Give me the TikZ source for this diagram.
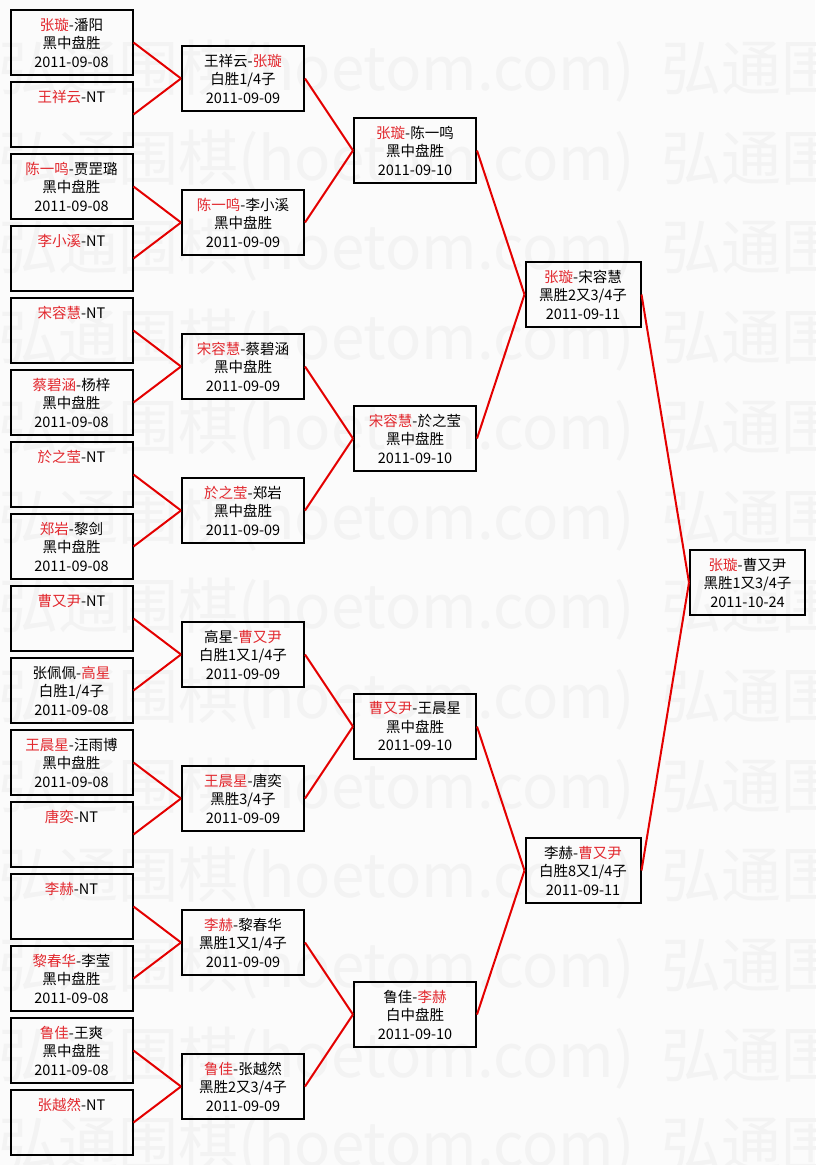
\documentclass[tikz,border=0pt]{standalone}
\usepackage{fontspec}
\setmainfont{Noto Sans CJK SC}

\definecolor{namered}{RGB}{226,40,46}
\definecolor{linkred}{RGB}{228,0,0}
\definecolor{paper}{RGB}{251,251,251}
\definecolor{wmgray}{RGB}{243,243,243}

\newcommand{\pname}[1]{\textcolor{namered}{#1}}

\begin{document}
\begin{tikzpicture}
  \tikzset{
    game/.style={
      rectangle,
      draw=black,
      line width=2pt,
      minimum width=122pt,
      minimum height=65pt,
      inner sep=0pt,
      align=center,
      font=\fontsize{14.5}{18.5}\selectfont
    },
    lategame/.style={game, minimum width=115pt},
    link/.style={draw=linkred, line width=2pt},
    wmtext/.style={anchor=base west, inner sep=0pt, text=wmgray, font=\fontsize{60}{60}\selectfont}
  }

  \fill[paper] (0pt, 0pt) rectangle (815pt, -1165pt);
  \useasboundingbox (0pt, 0pt) rectangle (815pt, -1165pt);

  % watermark rows
  \node[wmtext] (wm1) at (-2pt, -90pt) {弘通围棋(hoetom.com)\ \ 弘通围棋(hoetom.com)};
  \node[wmtext] (wm2) at (-2pt, -180pt) {弘通围棋(hoetom.com)\ \ 弘通围棋(hoetom.com)};
  \node[wmtext] (wm3) at (-2pt, -269pt) {弘通围棋(hoetom.com)\ \ 弘通围棋(hoetom.com)};
  \node[wmtext] (wm4) at (-2pt, -359pt) {弘通围棋(hoetom.com)\ \ 弘通围棋(hoetom.com)};
  \node[wmtext] (wm5) at (-2pt, -449pt) {弘通围棋(hoetom.com)\ \ 弘通围棋(hoetom.com)};
  \node[wmtext] (wm6) at (-2pt, -539pt) {弘通围棋(hoetom.com)\ \ 弘通围棋(hoetom.com)};
  \node[wmtext] (wm7) at (-2pt, -628pt) {弘通围棋(hoetom.com)\ \ 弘通围棋(hoetom.com)};
  \node[wmtext] (wm8) at (-2pt, -718pt) {弘通围棋(hoetom.com)\ \ 弘通围棋(hoetom.com)};
  \node[wmtext] (wm9) at (-2pt, -808pt) {弘通围棋(hoetom.com)\ \ 弘通围棋(hoetom.com)};
  \node[wmtext] (wm10) at (-2pt, -897pt) {弘通围棋(hoetom.com)\ \ 弘通围棋(hoetom.com)};
  \node[wmtext] (wm11) at (-2pt, -987pt) {弘通围棋(hoetom.com)\ \ 弘通围棋(hoetom.com)};
  \node[wmtext] (wm12) at (-2pt, -1077pt) {弘通围棋(hoetom.com)\ \ 弘通围棋(hoetom.com)};
  \node[wmtext] (wm13) at (-2pt, -1166pt) {弘通围棋(hoetom.com)\ \ 弘通围棋(hoetom.com)};

  % first round
  \node[game] (a1) at (71.5pt, -42.5pt) {\pname{张璇}-潘阳\\黑中盘胜\\2011-09-08};
  \node[game] (a2) at (71.5pt, -114.5pt) {\pname{王祥云}-NT\\~\\~};
  \node[game] (a3) at (71.5pt, -186.5pt) {\pname{陈一鸣}-贾罡璐\\黑中盘胜\\2011-09-08};
  \node[game] (a4) at (71.5pt, -258.5pt) {\pname{李小溪}-NT\\~\\~};
  \node[game] (a5) at (71.5pt, -330.5pt) {\pname{宋容慧}-NT\\~\\~};
  \node[game] (a6) at (71.5pt, -402.5pt) {\pname{蔡碧涵}-杨梓\\黑中盘胜\\2011-09-08};
  \node[game] (a7) at (71.5pt, -474.5pt) {\pname{於之莹}-NT\\~\\~};
  \node[game] (a8) at (71.5pt, -546.5pt) {\pname{郑岩}-黎剑\\黑中盘胜\\2011-09-08};
  \node[game] (a9) at (71.5pt, -618.5pt) {\pname{曹又尹}-NT\\~\\~};
  \node[game] (a10) at (71.5pt, -690.5pt) {张佩佩-\pname{高星}\\白胜1/4子\\2011-09-08};
  \node[game] (a11) at (71.5pt, -762.5pt) {\pname{王晨星}-汪雨博\\黑中盘胜\\2011-09-08};
  \node[game] (a12) at (71.5pt, -834.5pt) {\pname{唐奕}-NT\\~\\~};
  \node[game] (a13) at (71.5pt, -906.5pt) {\pname{李赫}-NT\\~\\~};
  \node[game] (a14) at (71.5pt, -978.5pt) {\pname{黎春华}-李莹\\黑中盘胜\\2011-09-08};
  \node[game] (a15) at (71.5pt, -1050.5pt) {\pname{鲁佳}-王爽\\黑中盘胜\\2011-09-08};
  \node[game] (a16) at (71.5pt, -1122.5pt) {\pname{张越然}-NT\\~\\~};

  % second round
  \node[game] (b1) at (243pt, -78.5pt) {王祥云-\pname{张璇}\\白胜1/4子\\2011-09-09};
  \node[game] (b2) at (243pt, -222.5pt) {\pname{陈一鸣}-李小溪\\黑中盘胜\\2011-09-09};
  \node[game] (b3) at (243pt, -366.5pt) {\pname{宋容慧}-蔡碧涵\\黑中盘胜\\2011-09-09};
  \node[game] (b4) at (243pt, -510.5pt) {\pname{於之莹}-郑岩\\黑中盘胜\\2011-09-09};
  \node[game] (b5) at (243pt, -654.5pt) {高星-\pname{曹又尹}\\白胜1又1/4子\\2011-09-09};
  \node[game] (b6) at (243pt, -798.5pt) {\pname{王晨星}-唐奕\\黑胜3/4子\\2011-09-09};
  \node[game] (b7) at (243pt, -942.5pt) {\pname{李赫}-黎春华\\黑胜1又1/4子\\2011-09-09};
  \node[game] (b8) at (243pt, -1086.5pt) {\pname{鲁佳}-张越然\\黑胜2又3/4子\\2011-09-09};

  % quarter finals
  \node[game] (c1) at (415pt, -150.5pt) {\pname{张璇}-陈一鸣\\黑中盘胜\\2011-09-10};
  \node[game] (c2) at (415pt, -438.5pt) {\pname{宋容慧}-於之莹\\黑中盘胜\\2011-09-10};
  \node[game] (c3) at (415pt, -726.5pt) {\pname{曹又尹}-王晨星\\黑中盘胜\\2011-09-10};
  \node[game] (c4) at (415pt, -1014.5pt) {鲁佳-\pname{李赫}\\白中盘胜\\2011-09-10};

  % semi finals
  \node[lategame] (d1) at (583pt, -294.5pt) {\pname{张璇}-宋容慧\\黑胜2又3/4子\\2011-09-11};
  \node[lategame] (d2) at (583pt, -870.5pt) {李赫-\pname{曹又尹}\\白胜8又1/4子\\2011-09-11};

  % final
  \node[lategame] (e1) at (747.5pt, -582.5pt) {\pname{张璇}-曹又尹\\黑胜1又3/4子\\2011-10-24};

  \draw[link] (a1.east) -- (b1.west);
  \draw[link] (a2.east) -- (b1.west);
  \draw[link] (a3.east) -- (b2.west);
  \draw[link] (a4.east) -- (b2.west);
  \draw[link] (a5.east) -- (b3.west);
  \draw[link] (a6.east) -- (b3.west);
  \draw[link] (a7.east) -- (b4.west);
  \draw[link] (a8.east) -- (b4.west);
  \draw[link] (a9.east) -- (b5.west);
  \draw[link] (a10.east) -- (b5.west);
  \draw[link] (a11.east) -- (b6.west);
  \draw[link] (a12.east) -- (b6.west);
  \draw[link] (a13.east) -- (b7.west);
  \draw[link] (a14.east) -- (b7.west);
  \draw[link] (a15.east) -- (b8.west);
  \draw[link] (a16.east) -- (b8.west);

  \draw[link] (b1.east) -- (c1.west);
  \draw[link] (b2.east) -- (c1.west);
  \draw[link] (b3.east) -- (c2.west);
  \draw[link] (b4.east) -- (c2.west);
  \draw[link] (b5.east) -- (c3.west);
  \draw[link] (b6.east) -- (c3.west);
  \draw[link] (b7.east) -- (c4.west);
  \draw[link] (b8.east) -- (c4.west);

  \draw[link] (c1.east) -- (d1.west);
  \draw[link] (c2.east) -- (d1.west);
  \draw[link] (c3.east) -- (d2.west);
  \draw[link] (c4.east) -- (d2.west);

  \draw[link] (d1.east) -- (e1.west);
  \draw[link] (d2.east) -- (e1.west);
\end{tikzpicture}
\end{document}
